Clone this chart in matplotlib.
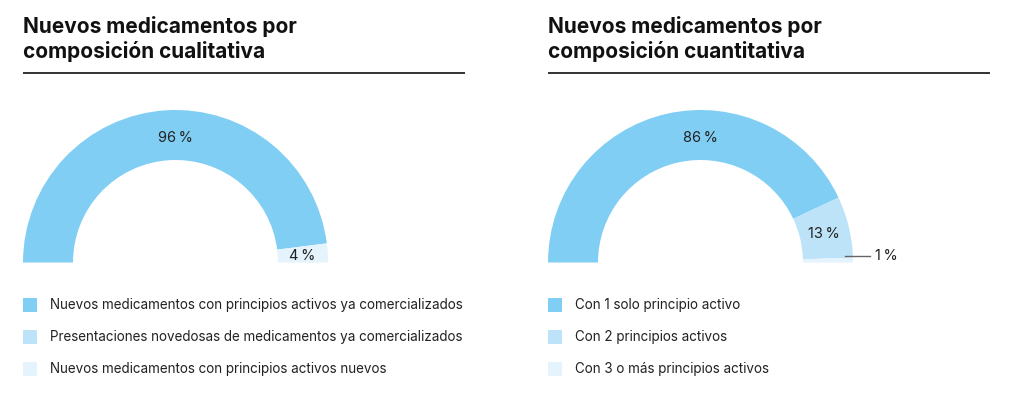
import matplotlib.pyplot as plt
from matplotlib.patches import Rectangle
import numpy as np

W, H = 1024, 396

qual_title = ['Nuevos medicamentos por', 'composición cualitativa']
qual_labels = ['Nuevos medicamentos con principios activos ya comercializados',
               'Presentaciones novedosas de medicamentos ya comercializados',
               'Nuevos medicamentos con principios activos nuevos']
qual_values = [96, 0, 4]

quant_title = ['Nuevos medicamentos por', 'composición cuantitativa']
quant_labels = ['Con 1 solo principio activo',
                'Con 2 principios activos',
                'Con 3 o más principios activos']
quant_values = [86, 13, 1]

colors = ['#81cef4', '#bde3f8', '#e4f3fc']

plt.rcParams['font.family'] = ['Inter', 'DejaVu Sans']

fig = plt.figure(figsize=(W / 100, H / 100), dpi=100)
ax = fig.add_axes([0, 0, 1, 1])


def half_donut(ax, x0, title, labels, values):
    r = 152.5
    cx, cy = x0 + r, H - 262.5
    total = sum(values)
    # hidden filler slice makes the pie a half ring
    ax.pie(values + [total], colors=colors + ['none'], startangle=180,
           counterclock=False, radius=r, center=(cx, cy),
           wedgeprops=dict(width=50, linewidth=0))

    start = 180.0
    for v in values:
        span = 180.0 * v / total
        mid = start - span / 2
        start -= span
        if v == 0:
            continue
        txt = f'{v}\u2009%'
        if v > 50:
            ang = np.radians(90)
        else:
            ang = np.radians(mid)
        rm = r - 26
        if v < 2:
            yy = cy + (r - 6) * np.sin(ang) + 4
            ax.plot([cx + r - 8, cx + r + 17], [yy, yy], color='#666666', lw=1)
            ax.text(cx + r + 22, yy, txt, ha='left', va='center', fontsize=10.5, color='#222222')
        else:
            ax.text(cx + rm * np.cos(ang), cy + rm * np.sin(ang) - 1.5, txt,
                    ha='center', va='center', fontsize=10.5, color='#222222')

    ax.text(x0, H - 33, title[0], ha='left', va='baseline', fontsize=15, fontweight='bold', color='#111111')
    ax.text(x0, H - 58.5, title[1], ha='left', va='baseline', fontsize=15, fontweight='bold', color='#111111')
    ax.plot([x0, x0 + 442], [H - 73, H - 73], color='#222222', lw=1.3, solid_capstyle='butt')

    for i, lab in enumerate(labels):
        yc = H - (304.5 + 32 * i)
        ax.add_patch(Rectangle((x0, yc - 7), 14, 14, facecolor=colors[i], edgecolor='none'))
        ax.text(x0 + 27, yc, lab, ha='left', va='center', fontsize=9.7, color='#222222')


half_donut(ax, 23, qual_title, qual_labels, qual_values)
half_donut(ax, 548, quant_title, quant_labels, quant_values)

ax.set_xlim(0, W)
ax.set_ylim(0, H)
ax.set_aspect('equal')
ax.axis('off')

fig.savefig('out.png', dpi=100, facecolor='white')
